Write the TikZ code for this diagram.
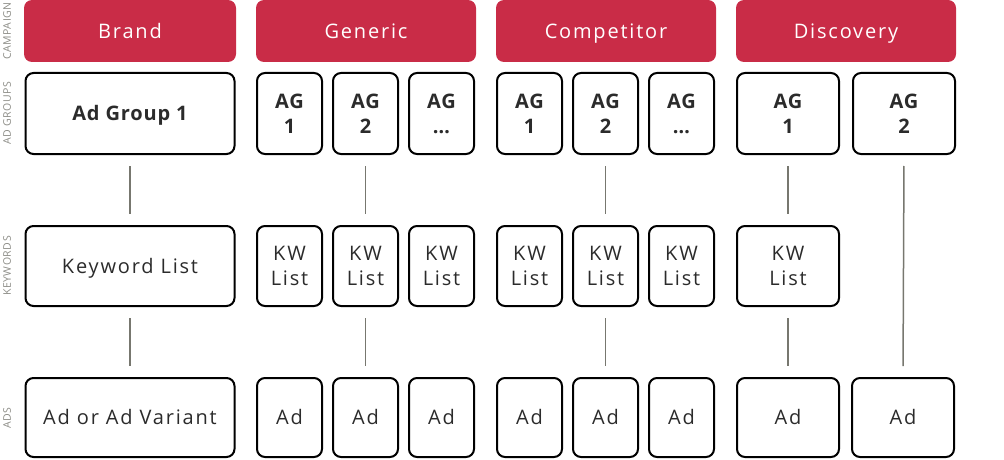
\documentclass[tikz,border=0pt]{standalone}
\usepackage{fontspec}
\setmainfont{Open Sans}[LetterSpace=9, BoldFeatures={LetterSpace=4}]
\newfontfamily\rowfont[LetterSpace=5]{Open Sans}
\usetikzlibrary{positioning}
\definecolor{campred}{HTML}{C92C47}
\definecolor{boxtext}{HTML}{2B2B2B}
\definecolor{linkgray}{HTML}{77776F}
\definecolor{rowgray}{HTML}{8C8C86}

\begin{document}
\begin{tikzpicture}[x=1pt, y=-1pt,
        oneline/.style={text height=14.5pt, text depth=0pt},
        campaign/.style={oneline, fill=campred, text=white, rounded corners=8pt, minimum height=62pt, inner sep=0pt, font=\fontsize{20}{25}\selectfont},
        box/.style={draw=black, line width=2pt, rounded corners=8pt, text=boxtext, align=center, inner sep=0pt, font=\fontsize{20}{25}\selectfont},
        agbox/.style={box, minimum height=81pt, font=\fontsize{20}{25}\selectfont\bfseries},
        kwbox/.style={box, minimum height=80pt},
        adbox/.style={box, minimum height=79pt},
        link/.style={draw=linkgray, line width=1.5pt, shorten >=11pt, shorten <=11pt},
        rowlabel/.style={text=rowgray, rotate=90, inner sep=0pt, font=\rowfont\fontsize{10.5}{12}\selectfont}]
        \useasboundingbox (0,0) rectangle (1004,460);

        % row labels
        \node[rowlabel] (lcamp) at (7,31) {CAMPAIGN};
        \node[rowlabel] (lgroups) at (7,113) {AD GROUPS};
        \node[rowlabel] (lkw) at (7,266) {KEYWORDS};
        \node[rowlabel] (lads) at (7,418) {ADS};

        % campaigns
        \node[campaign, minimum width=212pt] (brand) at (130,31) {Brand};
        \node[campaign, minimum width=220pt] (generic) at (366,31) {Generic};
        \node[campaign, minimum width=220pt] (competitor) at (606,31) {Competitor};
        \node[campaign, minimum width=220pt] (discovery) at (846,31) {Discovery};

        % brand column
        \node[agbox, oneline, minimum width=209pt] (brand-ag) at (130,113.5) {Ad Group 1};
        \node[kwbox, oneline, minimum width=209pt] (brand-kw) at (130,266) {Keyword List};
        \node[adbox, oneline, minimum width=209pt] (brand-ad) at (130,417.5) {Ad or Ad Variant};

        % generic and competitor columns
        \foreach \camp/\xo in {gen/289.5, comp/529.5} {
            \foreach \i/\t in {1/1, 2/2, 3/…} {
                \node[agbox, minimum width=65pt] (\camp-ag\i) at ({\xo+76*(\i-1)},113.5) {AG\\\t};
                \node[kwbox, minimum width=65pt] (\camp-kw\i) at ({\xo+76*(\i-1)},266) {KW\\List};
                \node[adbox, oneline, minimum width=65pt] (\camp-ad\i) at ({\xo+76*(\i-1)},417.5) {Ad};
            }
        }

        % discovery column
        \node[agbox, minimum width=102pt] (disc-ag1) at (788,113.5) {AG\\1};
        \node[agbox, minimum width=102pt] (disc-ag2) at (904,113.5) {AG\\2};
        \node[kwbox, minimum width=102pt] (disc-kw1) at (788,266) {KW\\List};
        \node[adbox, oneline, minimum width=102pt] (disc-ad1) at (788,417.5) {Ad};
        \node[adbox, oneline, minimum width=102pt] (disc-ad2) at (903,417.5) {Ad};

        % connectors
        \draw[link] (brand-ag) -- (brand-kw);
        \draw[link] (brand-kw) -- (brand-ad);
        \foreach \camp in {gen, comp} {
            \draw[link] (\camp-ag2) -- (\camp-kw2);
            \draw[link] (\camp-kw2) -- (\camp-ad2);
        }
        \draw[link] (disc-ag1) -- (disc-kw1);
        \draw[link] (disc-kw1) -- (disc-ad1);
        \draw[link] (disc-ag2.south) -- (disc-ad2.north);
    \end{tikzpicture}
\end{document}
